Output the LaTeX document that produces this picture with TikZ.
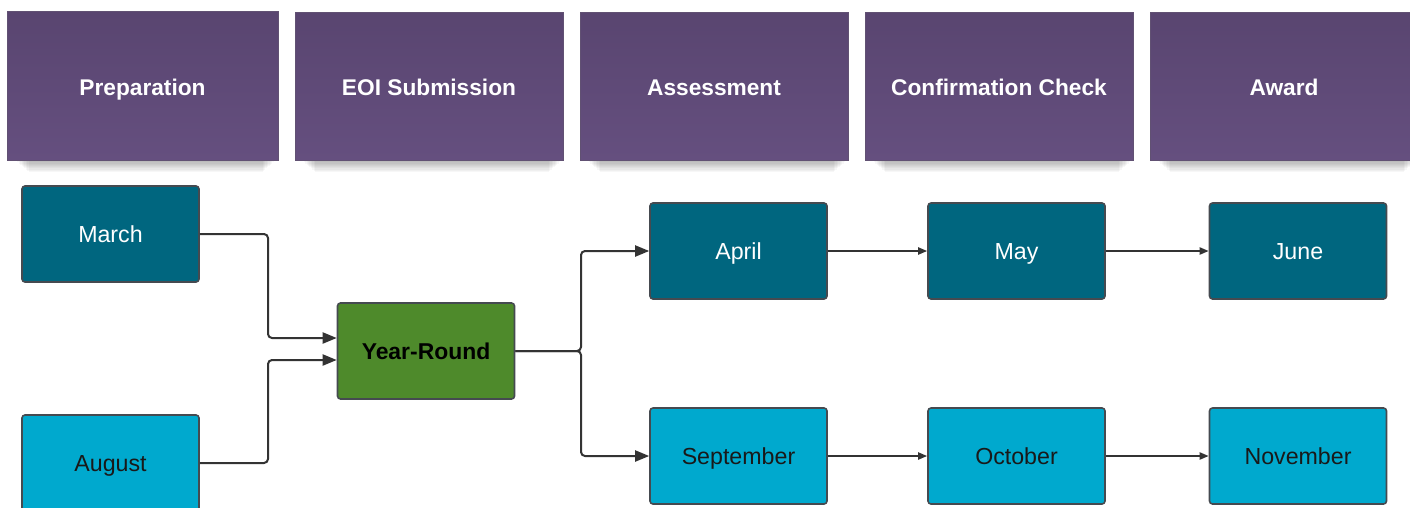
\documentclass[tikz,border=0pt]{standalone}
\usepackage{fontspec}
\setmainfont{Liberation Sans}
\usetikzlibrary{arrows.meta}
\definecolor{hdrtop}{HTML}{594570}
\definecolor{hdrbot}{HTML}{654F7F}
\definecolor{darkteal}{HTML}{00667F}
\definecolor{lightcyan}{HTML}{00A9CE}
\definecolor{leafgreen}{HTML}{4E8A2B}
\definecolor{edgegray}{HTML}{454A50}
\definecolor{linegray}{HTML}{333333}
\tikzset{
  header/.style={rectangle, minimum width=268pt, minimum height=148pt,
    top color=hdrtop, bottom color=hdrbot, draw=hdrtop!80!gray, line width=0.6pt,
    text=white, font=\fontsize{22.7}{24}\selectfont\bfseries,
    text height=19.5pt, text depth=0pt},
  month/.style={rectangle, rounded corners=3pt, minimum width=177pt, minimum height=96pt,
    draw=edgegray, line width=1.6pt, font=\fontsize{23.2}{24}\selectfont,
    text height=16.6pt, text depth=0pt},
  darkbox/.style={month, fill=darkteal, text=white},
  lightbox/.style={month, fill=lightcyan, text=black!90},
  greenbox/.style={month, fill=leafgreen, text=black, font=\fontsize{22.9}{24}\selectfont\bfseries},
  bigarrow/.style={draw=linegray, line width=2pt, rounded corners=4pt,
    -{Triangle[length=14pt,width=11pt]}},
  smallarrow/.style={draw=linegray, line width=2pt,
    -{Triangle[length=9pt,width=7pt]}},
  softshadow/.style={fill=black, opacity=0.03},
}
\newcommand{\hdrshadow}[2]{% center x, bottom y
  \foreach \k in {1,...,10} {
    \fill[softshadow] ({#1-128+\k*1.4},{#2-20}) rectangle ({#1+134-\k*1.4},{#2+\k*1.2});
  }
}
\begin{document}
\begin{tikzpicture}[x=1pt,y=-1pt]
\useasboundingbox (0,0) rectangle (1410,507);
\fill[white] (0,0) rectangle (1410,507);
% header shadows
\hdrshadow{142.5}{160}
\hdrshadow{429}{160}
\hdrshadow{714}{160}
\hdrshadow{999}{160}
\hdrshadow{1284}{160}
% headers
\node[header, minimum width=271pt, minimum height=149pt] (h1) at (142.5,85.5) {Preparation};
\node[header] (h2) at (429,86) {EOI Submission};
\node[header] (h3) at (714,86) {Assessment};
\node[header] (h4) at (999,86) {Confirmation Check};
\node[header] (h5) at (1284,86) {Award};
% months
\node[darkbox] (mar) at (110.5,234) {March};
\node[lightbox] (aug) at (110.5,463) {August};
\node[greenbox] (yr) at (426,351) {Year-Round};
\node[darkbox] (apr) at (738.5,251) {April};
\node[darkbox] (may) at (1016.5,251) {May};
\node[darkbox] (jun) at (1298,251) {June};
\node[lightbox] (sep) at (738.5,456) {September};
\node[lightbox] (oct) at (1016.5,456) {October};
\node[lightbox] (nov) at (1298,456) {November};
% connectors
\coordinate (yrin1) at ([yshift=13pt]yr.west);
\coordinate (yrin2) at ([yshift=-9pt]yr.west);
\draw[bigarrow] (mar.east) -- (268,234) -- (268,338) -- (yrin1);
\draw[bigarrow] (aug.east) -- (268,463) -- (268,360) -- (yrin2);
\draw[bigarrow] (yr.east) -- (581,351) -- (581,251) -- (apr.west);
\draw[bigarrow] (yr.east) -- (581,351) -- (581,456) -- (sep.west);
\draw[smallarrow] (apr.east) -- (may.west);
\draw[smallarrow] (may.east) -- (jun.west);
\draw[smallarrow] (sep.east) -- (oct.west);
\draw[smallarrow] (oct.east) -- (nov.west);
\end{tikzpicture}
\end{document}
